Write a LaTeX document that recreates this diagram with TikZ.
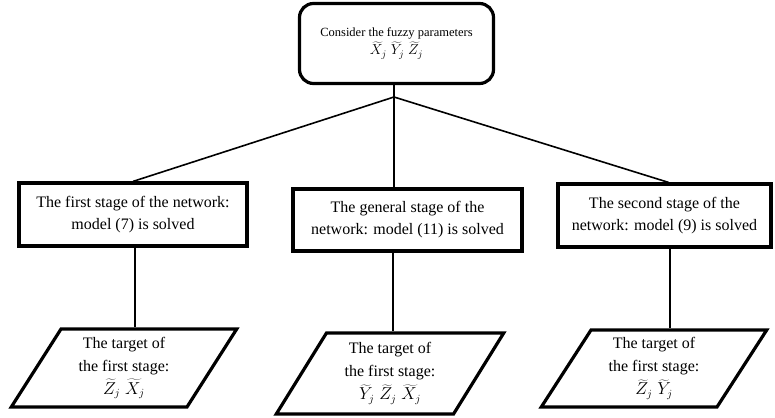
\documentclass[tikz,border=0pt]{standalone}
\usepackage{fontspec}
\setmainfont{Liberation Serif}
\usetikzlibrary{shapes.geometric}
\tikzset{
  box/.style={draw, line width=3.2pt, align=center, inner sep=2pt,
    font=\fontsize{16}{22}\selectfont},
  topbox/.style={draw, line width=3.2pt, rounded corners=14pt, align=center,
    font=\fontsize{12.5}{18}\selectfont},
  para/.style={draw, line width=3.2pt, shape=trapezium, trapezium left angle=60,
    trapezium right angle=120, trapezium stretches=true, align=center, inner sep=0pt,
    font=\fontsize{16}{23}\selectfont},
  conn/.style={line width=1.6pt}
}
\begin{document}
\begin{tikzpicture}[x=1pt,y=-1pt]
\useasboundingbox (0,0) rectangle (775,417);
\node[topbox, minimum width=194pt, minimum height=80pt] (top) at (396.5,43.5)
  {Consider the fuzzy parameters\\ {\fontsize{14}{18}\selectfont$\widetilde{X}_j\;\widetilde{Y}_j\;\widetilde{Z}_j$}};
\coordinate (J) at (394,97);
\node[box, minimum width=228pt, minimum height=63pt] (L) at (133,214.5)
  {The first stage of the network:\\ model (7) is solved};
\node[box, minimum width=229pt, minimum height=62pt] (M) at (407.5,220)
  {The general stage of the\\ network: model (11) is solved};
\node[box, minimum width=213pt, minimum height=63pt] (R) at (664.5,215.5)
  {The second stage of the\\ network: model (9) is solved};
\node[para, minimum width=226pt, minimum height=78pt] (PL) at (124,368)
  {The target of\\ the first stage:\\ $\widetilde{Z}_j\;\widetilde{X}_j$};
\node[para, minimum width=228pt, minimum height=81pt] (PM) at (390,373.5)
  {The target of\\ the first stage:\\ $\widetilde{Y}_j\;\widetilde{Z}_j\;\widetilde{X}_j$};
\node[para, minimum width=226pt, minimum height=77pt] (PR) at (654,368.5)
  {The target of\\ the first stage:\\ $\widetilde{Z}_j\;\widetilde{Y}_j$};
\draw[conn] (top.south -| J) -- (J);
\draw[conn] (J) -- (L.north);
\draw[conn] (J) -- (J |- M.north);
\draw[conn] (J) -- ([xshift=4pt]R.north);
\draw[conn] ([xshift=2pt]L.south) -- ([xshift=2pt]L.south |- PL.north);
\draw[conn] ([xshift=-14.5pt]M.south) -- ([xshift=-14.5pt]M.south |- PM.north);
\draw[conn] ([xshift=5.5pt]R.south) -- ([xshift=5.5pt]R.south |- PR.north);
\end{tikzpicture}
\end{document}
